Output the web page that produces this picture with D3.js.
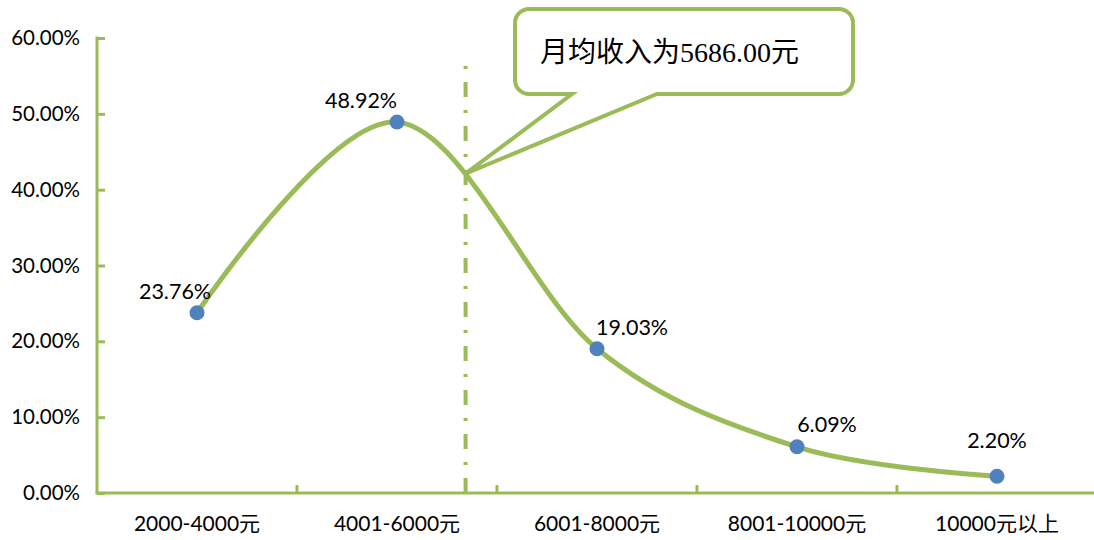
<!DOCTYPE html>
<html>
<head>
<meta charset="utf-8">
<script src="https://cdn.jsdelivr.net/npm/d3@7"></script>
<style>
  body { margin: 0; background: #fff; }
  svg { display: block; }
  text { font-family: Lato, "Noto Sans CJK SC", sans-serif; fill: #000; }
</style>
</head>
<body>
<div class="chart"></div>
<script>
// income brackets and share of respondents
var categories = ["2000-4000元", "4001-6000元", "6001-8000元", "8001-10000元", "10000元以上"];
var shares = [23.76, 48.92, 19.03, 6.09, 2.20];
var yTicks = [0, 10, 20, 30, 40, 50, 60];
// bracket mid points, used to place the mean marker
var bracketMids = [3000, 5000, 7000, 9000, 11000];
var meanIncome = 5686;
var calloutText = "月均收入为5686.00元";

var width = 1094,
    height = 540,
    green = "#9bbb59",
    blue = "#4f81bd";

var margin = {left: 97, right: -3, top: 38, bottom: 47};

var svg = d3.select(".chart").append("svg")
    .attr("width", width)
    .attr("height", height);

var x = d3.scaleBand()
    .domain(categories)
    .range([margin.left, width - margin.right]);

var y = d3.scaleLinear()
    .domain([0, 60])
    .range([height - margin.bottom, margin.top]);

var xMean = d3.scaleLinear()
    .domain(bracketMids)
    .range(categories.map(function(c) { return x(c) + x.bandwidth() / 2; }));

var data = categories.map(function(c, i) { return {cat: c, value: shares[i]}; });

// y axis
var yAxis = svg.append("g")
    .attr("transform", "translate(" + margin.left + ",0)")
    .call(d3.axisRight(y).tickValues(yTicks).tickSize(8).tickFormat(""));
yAxis.select(".domain").remove();
yAxis.selectAll("line").attr("stroke", green).attr("stroke-width", 3);
yAxis.append("line")
    .attr("x1", 0).attr("x2", 0)
    .attr("y1", y(60) - 1.5).attr("y2", y(0))
    .attr("stroke", green).attr("stroke-width", 3);

svg.selectAll(".ylab")
    .data(yTicks)
    .enter().append("text")
    .attr("class", "ylab")
    .attr("x", 80)
    .attr("y", function(d) { return y(d) + 7; })
    .attr("text-anchor", "end")
    .style("font-size", "20.5px")
    .text(function(d) { return d3.format(".2f")(d) + "%"; });

// x axis
var bounds = categories.slice(1).map(function(c) { return x(c); });
svg.selectAll(".xtick")
    .data(bounds)
    .enter().append("line")
    .attr("class", "xtick")
    .attr("x1", function(d) { return d; }).attr("x2", function(d) { return d; })
    .attr("y1", y(0)).attr("y2", y(0) - 8)
    .attr("stroke", green).attr("stroke-width", 3);

svg.append("line")
    .attr("x1", margin.left - 1.5).attr("x2", width)
    .attr("y1", y(0)).attr("y2", y(0))
    .attr("stroke", green).attr("stroke-width", 3);

svg.selectAll(".xlab")
    .data(categories)
    .enter().append("text")
    .attr("class", "xlab")
    .attr("x", function(d) { return x(d) + x.bandwidth() / 2; })
    .attr("y", 531)
    .attr("text-anchor", "middle")
    .style("font-size", "21px")
    .text(function(d) { return d; });

// mean marker
var mx = xMean(meanIncome);
svg.append("line")
    .attr("x1", mx).attr("x2", mx)
    .attr("y1", y(0)).attr("y2", 66)
    .attr("stroke", green)
    .attr("stroke-width", 4)
    .attr("stroke-dasharray", "15,13,3,13");

// smoothed line
var line = d3.line()
    .x(function(d) { return x(d.cat) + x.bandwidth() / 2; })
    .y(function(d) { return y(d.value); })
    .curve(d3.curveCardinal.tension(0));

var path = svg.append("path")
    .datum(data)
    .attr("d", line)
    .attr("fill", "none")
    .attr("stroke", green)
    .attr("stroke-width", 5)
    .attr("stroke-linecap", "round");

svg.selectAll(".dot")
    .data(data)
    .enter().append("circle")
    .attr("class", "dot")
    .attr("cx", function(d) { return x(d.cat) + x.bandwidth() / 2; })
    .attr("cy", function(d) { return y(d.value); })
    .attr("r", 7.5)
    .attr("fill", blue);

// value labels, nudged off the line like the original
var nudge = [[-22, -14], [-36, -14], [35, -14], [30, -15], [0, -28]];
svg.selectAll(".vlab")
    .data(data)
    .enter().append("text")
    .attr("class", "vlab")
    .attr("x", function(d, i) { return x(d.cat) + x.bandwidth() / 2 + nudge[i][0]; })
    .attr("y", function(d, i) { return y(d.value) + nudge[i][1]; })
    .attr("text-anchor", "middle")
    .style("font-size", "21.5px")
    .text(function(d) { return d3.format(".2f")(d.value) + "%"; });

// find where the curve crosses the mean marker
var node = path.node(), total = node.getTotalLength(), tip = null, best = 1e9;
for (var l = 0; l < total; l += 0.5) {
  var p = node.getPointAtLength(l);
  if (Math.abs(p.x - mx) < best) { best = Math.abs(p.x - mx); tip = p; }
}

// callout box
var bx0 = 515, by0 = 9, bx1 = 853, by1 = 94, r = 14;
var c = d3.path();
c.moveTo(bx0 + r, by0);
c.lineTo(bx1 - r, by0);
c.arcTo(bx1, by0, bx1, by0 + r, r);
c.lineTo(bx1, by1 - r);
c.arcTo(bx1, by1, bx1 - r, by1, r);
c.lineTo(657, by1);
c.lineTo(tip.x, tip.y);
c.lineTo(572, by1);
c.lineTo(bx0 + r, by1);
c.arcTo(bx0, by1, bx0, by1 - r, r);
c.lineTo(bx0, by0 + r);
c.arcTo(bx0, by0, bx0 + r, by0, r);
c.closePath();

svg.append("path")
    .attr("d", c.toString())
    .attr("fill", "#fff")
    .attr("stroke", green)
    .attr("stroke-width", 4)
    .attr("stroke-linejoin", "miter");

svg.append("text")
    .attr("x", 540)
    .attr("y", 62)
    .style("font-family", "'Liberation Serif', 'Noto Sans CJK SC', serif")
    .style("font-size", "28px")
    .text(calloutText);
</script>
</body>
</html>
